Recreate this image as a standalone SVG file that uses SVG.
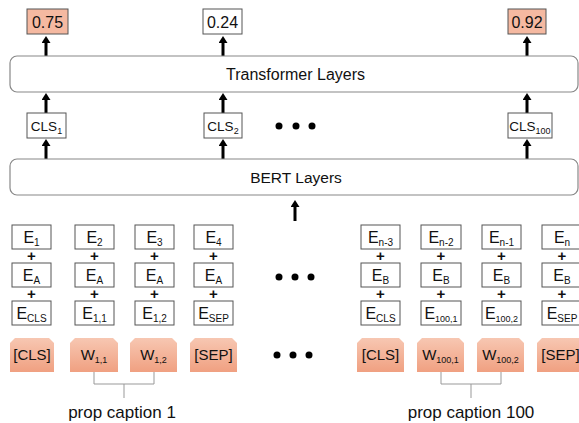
<svg xmlns="http://www.w3.org/2000/svg" width="579" height="423" viewBox="0 0 579 423">
<defs>
<linearGradient id="tok" x1="0" y1="0" x2="0" y2="1">
<stop offset="0" stop-color="#f7c7b2"/>
<stop offset="1" stop-color="#f0a081"/>
</linearGradient>
<marker id="ah" viewBox="0 0 7 9" refX="1" refY="4.5" markerWidth="7" markerHeight="9" markerUnits="userSpaceOnUse" orient="auto">
<path d="M0,0 L7,4.5 L0,9 z" fill="#000"/>
</marker>
<style>
text{font-family:"Liberation Sans",Arial,sans-serif;fill:#111;text-anchor:middle}
.lay{fill:#fff;stroke:#888;stroke-width:1.2}
.box{fill:#fff;stroke:#555;stroke-width:1}
.out{fill:#f5b9a1;stroke:#555;stroke-width:1}
.tok{fill:url(#tok)}
.arr{stroke:#000;stroke-width:3;fill:none;marker-end:url(#ah)}
.br{stroke:#999;stroke-width:1;fill:none}
.e{font-size:16px}
.s{font-size:10px}
.ss{font-size:9px}
.plus{font-size:15px;font-weight:bold}
.t{font-size:15px}
.c{font-size:13.5px}
.o{font-size:16px}
</style>
</defs>

<g id="connectors">
<line class="arr" x1="46" y1="56" x2="46" y2="42"/>
<line class="arr" x1="223" y1="56" x2="223" y2="42"/>
<line class="arr" x1="527" y1="56" x2="527" y2="42"/>
<line class="arr" x1="46" y1="113" x2="46" y2="99"/>
<line class="arr" x1="223" y1="113" x2="223" y2="99"/>
<line class="arr" x1="527" y1="113" x2="527" y2="99"/>
<line class="arr" x1="46" y1="159" x2="46" y2="145"/>
<line class="arr" x1="223" y1="159" x2="223" y2="145"/>
<line class="arr" x1="527" y1="159" x2="527" y2="145"/>
<line class="arr" x1="295" y1="221" x2="295" y2="206"/>
<path class="br" d="M94,372 V384 H154 V372 M124,384 V398"/>
<path class="br" d="M441,372 V384 H501 V372 M471,384 V398"/>
</g>

<g id="out1"><rect class="out" x="27" y="9" width="41" height="25"/><text x="47.5" y="27.5" class="o">0.75</text></g>
<g id="out2"><rect class="box" x="203" y="9" width="39" height="25"/><text x="222.5" y="27.5" class="o">0.24</text></g>
<g id="out3"><rect class="out" x="508" y="9" width="38" height="25"/><text x="527" y="27.5" class="o">0.92</text></g>

<g id="transformer"><rect class="lay" x="10" y="56" width="568" height="36" rx="7"/><text x="295.5" y="80" style="font-size:16px">Transformer Layers</text></g>

<g id="cls1"><rect class="box" x="27" y="113" width="39" height="25"/><text x="46.5" y="131" class="c">CLS<tspan class="ss" dy="3">1</tspan></text></g>
<g id="cls2"><rect class="box" x="204" y="113" width="38" height="25"/><text x="223" y="131" class="c">CLS<tspan class="ss" dy="3">2</tspan></text></g>
<g id="cls100"><rect class="box" x="508" y="113" width="44" height="25"/><text x="530" y="131" class="c">CLS<tspan class="ss" dy="3">100</tspan></text></g>

<g id="dots-top"><circle cx="279" cy="126" r="3.5"/><circle cx="296" cy="126" r="3.5"/><circle cx="312" cy="126" r="3.5"/></g>

<g id="bert"><rect class="lay" x="10" y="159" width="568" height="36" rx="7"/><text x="296" y="183" style="font-size:15.5px">BERT Layers</text></g>

<g id="col1">
<rect class="box" x="12" y="225" width="39" height="24"/><text x="31.5" y="243" class="e">E<tspan class="s" dy="3">1</tspan></text>
<text x="31.5" y="261" class="plus">+</text>
<rect class="box" x="12" y="263" width="39" height="24"/><text x="31.5" y="281" class="e">E<tspan class="s" dy="3">A</tspan></text>
<text x="31.5" y="299" class="plus">+</text>
<rect class="box" x="12" y="301" width="39" height="24"/><text x="31.5" y="319" class="e">E<tspan class="s" dy="3">CLS</tspan></text>
</g>
<g id="col2">
<rect class="box" x="75" y="225" width="39" height="24"/><text x="94.5" y="243" class="e">E<tspan class="s" dy="3">2</tspan></text>
<text x="94.5" y="261" class="plus">+</text>
<rect class="box" x="75" y="263" width="39" height="24"/><text x="94.5" y="281" class="e">E<tspan class="s" dy="3">A</tspan></text>
<text x="94.5" y="299" class="plus">+</text>
<rect class="box" x="75" y="301" width="39" height="24"/><text x="94.5" y="319" class="e">E<tspan class="s" dy="3">1,1</tspan></text>
</g>
<g id="col3">
<rect class="box" x="135" y="225" width="39" height="24"/><text x="154.5" y="243" class="e">E<tspan class="s" dy="3">3</tspan></text>
<text x="154.5" y="261" class="plus">+</text>
<rect class="box" x="135" y="263" width="39" height="24"/><text x="154.5" y="281" class="e">E<tspan class="s" dy="3">A</tspan></text>
<text x="154.5" y="299" class="plus">+</text>
<rect class="box" x="135" y="301" width="39" height="24"/><text x="154.5" y="319" class="e">E<tspan class="s" dy="3">1,2</tspan></text>
</g>
<g id="col4">
<rect class="box" x="194" y="225" width="39" height="24"/><text x="213.5" y="243" class="e">E<tspan class="s" dy="3">4</tspan></text>
<text x="213.5" y="261" class="plus">+</text>
<rect class="box" x="194" y="263" width="39" height="24"/><text x="213.5" y="281" class="e">E<tspan class="s" dy="3">A</tspan></text>
<text x="213.5" y="299" class="plus">+</text>
<rect class="box" x="194" y="301" width="39" height="24"/><text x="213.5" y="319" class="e">E<tspan class="s" dy="3">SEP</tspan></text>
</g>
<g id="col5">
<rect class="box" x="361" y="225" width="39" height="24"/><text x="380.5" y="243" class="e">E<tspan class="s" dy="3">n-3</tspan></text>
<text x="380.5" y="261" class="plus">+</text>
<rect class="box" x="361" y="263" width="39" height="24"/><text x="380.5" y="281" class="e">E<tspan class="s" dy="3">B</tspan></text>
<text x="380.5" y="299" class="plus">+</text>
<rect class="box" x="361" y="301" width="39" height="24"/><text x="380.5" y="319" class="e">E<tspan class="s" dy="3">CLS</tspan></text>
</g>
<g id="col6">
<rect class="box" x="421" y="225" width="40" height="24"/><text x="441" y="243" class="e">E<tspan class="s" dy="3">n-2</tspan></text>
<text x="441" y="261" class="plus">+</text>
<rect class="box" x="421" y="263" width="40" height="24"/><text x="441" y="281" class="e">E<tspan class="s" dy="3">B</tspan></text>
<text x="441" y="299" class="plus">+</text>
<rect class="box" x="421" y="301" width="40" height="24"/><text x="441" y="319" class="e">E<tspan class="ss" dy="3">100,1</tspan></text>
</g>
<g id="col7">
<rect class="box" x="482" y="225" width="39" height="24"/><text x="501.5" y="243" class="e">E<tspan class="s" dy="3">n-1</tspan></text>
<text x="501.5" y="261" class="plus">+</text>
<rect class="box" x="482" y="263" width="39" height="24"/><text x="501.5" y="281" class="e">E<tspan class="s" dy="3">B</tspan></text>
<text x="501.5" y="299" class="plus">+</text>
<rect class="box" x="482" y="301" width="39" height="24"/><text x="501.5" y="319" class="e">E<tspan class="ss" dy="3">100,2</tspan></text>
</g>
<g id="col8">
<rect class="box" x="542" y="225" width="40" height="24"/><text x="562" y="243" class="e">E<tspan class="s" dy="3">n</tspan></text>
<text x="562" y="261" class="plus">+</text>
<rect class="box" x="542" y="263" width="40" height="24"/><text x="562" y="281" class="e">E<tspan class="s" dy="3">B</tspan></text>
<text x="562" y="299" class="plus">+</text>
<rect class="box" x="542" y="301" width="40" height="24"/><text x="562" y="319" class="e">E<tspan class="s" dy="3">SEP</tspan></text>
</g>

<g id="dots-mid"><circle cx="279" cy="277" r="3.5"/><circle cx="295" cy="277" r="3.5"/><circle cx="311" cy="277" r="3.5"/></g>

<g id="tok1"><path class="tok" d="M10,343 L15,338 L49,338 L54,343 V372 H10 Z"/><text x="32" y="360" class="t">[CLS]</text></g>
<g id="tok2"><path class="tok" d="M70,343 L75,338 L113,338 L118,343 V372 H70 Z"/><text x="94" y="360" class="t">W<tspan class="ss" dy="3">1,1</tspan></text></g>
<g id="tok3"><path class="tok" d="M130,343 L135,338 L172,338 L177,343 V372 H130 Z"/><text x="153.5" y="360" class="t">W<tspan class="ss" dy="3">1,2</tspan></text></g>
<g id="tok4"><path class="tok" d="M190,343 L195,338 L232,338 L237,343 V372 H190 Z"/><text x="213.5" y="360" class="t">[SEP]</text></g>
<g id="tok5"><path class="tok" d="M357,343 L362,338 L399,338 L404,343 V372 H357 Z"/><text x="380.5" y="360" class="t">[CLS]</text></g>
<g id="tok6"><path class="tok" d="M417,343 L422,338 L459,338 L464,343 V372 H417 Z"/><text x="440.5" y="360" class="t">W<tspan class="ss" dy="3">100,1</tspan></text></g>
<g id="tok7"><path class="tok" d="M477,343 L482,338 L519,338 L524,343 V372 H477 Z"/><text x="500.5" y="360" class="t">W<tspan class="ss" dy="3">100,2</tspan></text></g>
<g id="tok8"><path class="tok" d="M537,343 L542,338 L579,338 L584,343 V372 H537 Z"/><text x="560.5" y="360" class="t">[SEP]</text></g>

<g id="dots-bot"><circle cx="277" cy="355" r="3.5"/><circle cx="293" cy="355" r="3.5"/><circle cx="309" cy="355" r="3.5"/></g>

<g id="cap1"><text x="122" y="418" style="font-size:17px">prop caption 1</text></g>
<g id="cap100"><text x="471" y="418" style="font-size:17px">prop caption 100</text></g>
</svg>
